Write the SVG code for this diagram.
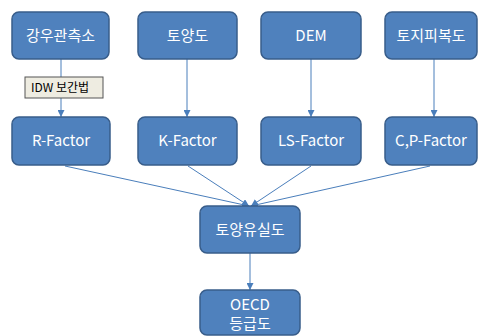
<svg xmlns="http://www.w3.org/2000/svg" width="478" height="336" viewBox="0 0 478 336">
<style>
.box{fill:#4f81bd;stroke:#385d8a;stroke-width:1.5}
.t{fill:#ffffff;font-family:"Noto Sans CJK KR","Liberation Sans",sans-serif;font-size:15px;text-anchor:middle}
.c{stroke:#4a7ebb;stroke-width:1;fill:none;marker-end:url(#ah)}
.lbl{fill:#eeece1;stroke:#555555;stroke-width:1}
.lt{fill:#000000;font-family:"Noto Sans CJK KR","Liberation Sans",sans-serif;font-size:12px}
</style>
<defs>
<marker id="ah" viewBox="0 0 10 10" refX="10" refY="5" markerWidth="7" markerHeight="7" markerUnits="userSpaceOnUse" orient="auto">
<path d="M0,0 L10,5 L0,10 z" fill="#4a7ebb"/>
</marker>
</defs>
<g id="connectors">
<line class="c" x1="61" y1="59" x2="61" y2="117"/>
<line class="c" x1="187" y1="59" x2="187" y2="117"/>
<line class="c" x1="311" y1="59" x2="311" y2="117"/>
<line class="c" x1="434" y1="59" x2="434" y2="117"/>
<line class="c" x1="65" y1="166" x2="249" y2="206"/>
<line class="c" x1="188" y1="166" x2="249" y2="206"/>
<line class="c" x1="311" y1="166" x2="251" y2="206"/>
<line class="c" x1="430" y1="166" x2="251" y2="206"/>
<line class="c" x1="250" y1="253" x2="250" y2="290"/>
</g>
<g id="label-idw">
<rect class="lbl" x="25" y="77" width="78" height="21"/>
<text class="lt" x="31" y="92">IDW 보간법</text>
</g>
<g id="n1"><rect class="box" x="12" y="12" width="97" height="47" rx="7"/><text class="t" x="60.5" y="41">강우관측소</text></g>
<g id="n2"><rect class="box" x="138" y="12" width="99" height="47" rx="7"/><text class="t" x="187.5" y="41">토양도</text></g>
<g id="n3"><rect class="box" x="261" y="12" width="100" height="47" rx="7"/><text class="t" x="311" y="41">DEM</text></g>
<g id="n4"><rect class="box" x="385" y="12" width="92" height="47" rx="7"/><text class="t" x="431" y="41">토지피복도</text></g>
<g id="r"><rect class="box" x="12" y="117" width="98" height="48" rx="7"/><text class="t" x="61" y="146">R-Factor</text></g>
<g id="k"><rect class="box" x="138" y="117" width="99" height="48" rx="7"/><text class="t" x="187.5" y="146">K-Factor</text></g>
<g id="ls"><rect class="box" x="261" y="117" width="100" height="48" rx="7"/><text class="t" x="311" y="146">LS-Factor</text></g>
<g id="cp"><rect class="box" x="385" y="117" width="92" height="48" rx="7"/><text class="t" x="431" y="146">C,P-Factor</text></g>
<g id="loss"><rect class="box" x="200" y="206" width="100" height="47" rx="7"/><text class="t" x="250" y="235">토양유실도</text></g>
<g id="oecd"><rect class="box" x="200" y="290" width="100" height="45" rx="7"/><text class="t" x="250" y="310">OECD</text><text class="t" x="250" y="329">등급도</text></g>
</svg>
